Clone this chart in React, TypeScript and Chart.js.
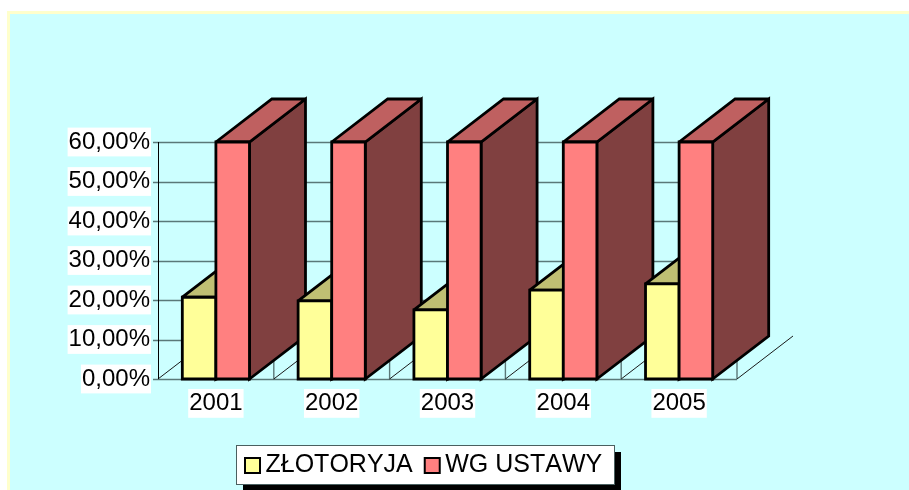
import React, { useEffect, useRef } from "react";
import { Chart, registerables } from "chart.js";

Chart.register(...registerables);

const years = ["2001", "2002", "2003", "2004", "2005"];
const zlotoryja = [20.7, 19.8, 17.5, 22.5, 24.1];
const wgUstawy = [60, 60, 60, 60, 60];
const seriesNames = ["ZŁOTORYJA", "WG USTAWY"];
const axisMax = 60;
const axisStep = 10;

const DEPTH_X = 56;
const DEPTH_Y = -43;
const GRID = "#5a7878";
const FONT = "'Liberation Sans', Arial, sans-serif";

function shade(hex: string, k: number) {
  const n = parseInt(hex.slice(1), 16);
  const c = [(n >> 16) & 255, (n >> 8) & 255, n & 255].map((v) => Math.round(v * k));
  return `rgb(${c[0]},${c[1]},${c[2]})`;
}

function poly(ctx: CanvasRenderingContext2D, pts: number[][], fill: string) {
  ctx.beginPath();
  pts.forEach((p, i) => (i ? ctx.lineTo(p[0], p[1]) : ctx.moveTo(p[0], p[1])));
  ctx.closePath();
  ctx.fillStyle = fill;
  ctx.fill();
  ctx.stroke();
}

const scenePlugin = {
  id: "scene",
  beforeDraw(chart: any) {
    const { ctx, width, height } = chart;
    ctx.save();
    ctx.fillStyle = "#ffffff";
    ctx.fillRect(0, 0, width, height);
    ctx.fillStyle = "#ffffcc";
    ctx.fillRect(7, 11, width - 7, height - 11);
    ctx.fillStyle = "#ccffff";
    ctx.fillRect(10, 14, width - 10, height - 14);
    // legend frame with drop shadow
    ctx.fillStyle = "#000000";
    ctx.fillRect(243, 452, 378, 38);
    ctx.fillStyle = "#ffffff";
    ctx.fillRect(237, 446, 377, 38);
    ctx.strokeStyle = "#4a6060";
    ctx.lineWidth = 1;
    ctx.strokeRect(236.5, 445.5, 378, 39);
    ctx.restore();
    ctx.fontKerning = "none";
  },
  afterLayout(chart: any) {
    const l = chart.legend;
    l.left = 233;
    l.right = 900;
    l.top = 434;
    l.bottom = 498;
  },
  beforeDatasetsDraw(chart: any) {
    const { ctx, scales } = chart;
    const x = scales.x;
    const y = scales.y;
    const base = y.getPixelForValue(0);
    const catW = x.width / years.length;
    ctx.save();
    // horizontal grid, ends behind the last category's bars
    ctx.strokeStyle = GRID;
    ctx.lineWidth = 1.4;
    y.ticks.forEach((t: any) => {
      const py = Math.round(y.getPixelForValue(t.value)) + 0.5;
      ctx.beginPath();
      ctx.moveTo(153, py);
      ctx.lineTo(t.value === 0 ? x.right : x.getPixelForValue(years.length - 1), py);
      ctx.stroke();
    });
    // floor
    for (let i = 0; i <= years.length; i++) {
      const px = x.left + i * catW;
      if (i > 0) {
        ctx.strokeStyle = GRID;
        ctx.lineWidth = 1.4;
        ctx.beginPath();
        ctx.moveTo(px, base);
        ctx.lineTo(px, base - 18);
        ctx.stroke();
      }
      ctx.strokeStyle = "#1a1a1a";
      ctx.lineWidth = 1;
      ctx.beginPath();
      ctx.moveTo(px, base);
      ctx.lineTo(px + DEPTH_X, base + DEPTH_Y);
      ctx.stroke();
    }
    // value axis
    ctx.strokeStyle = "#000000";
    ctx.lineWidth = 1;
    ctx.beginPath();
    ctx.moveTo(x.left + 0.5, y.top);
    ctx.lineTo(x.left + 0.5, base);
    ctx.stroke();
    // bars, back to front per category
    ctx.strokeStyle = "#000000";
    ctx.lineWidth = 2.8;
    ctx.lineJoin = "miter";
    ctx.miterLimit = 3;
    years.forEach((_, i) => {
      chart.data.datasets.forEach((ds: any, d: number) => {
        const bar = chart.getDatasetMeta(d).data[i];
        const l = bar.x - bar.width / 2;
        const r = bar.x + bar.width / 2;
        const t = bar.y;
        const b = bar.base;
        const col = ds.backgroundColor;
        poly(ctx, [[r, t], [r + DEPTH_X, t + DEPTH_Y], [r + DEPTH_X, b + DEPTH_Y], [r, b]], shade(col, 0.5));
        poly(ctx, [[l, t], [l + DEPTH_X, t + DEPTH_Y], [r + DEPTH_X, t + DEPTH_Y], [r, t]], shade(col, 0.75));
        poly(ctx, [[l, t], [r, t], [r, b], [l, b]], col);
      });
    });
    ctx.restore();
    return false;
  },
};

export default function App() {
  const ref = useRef<HTMLCanvasElement>(null);
  useEffect(() => {
    document.body.style.margin = "0";
    const font = { family: FONT, size: 24 };
    const chart = new Chart(ref.current!, {
      type: "bar",
      data: {
        labels: years,
        datasets: [
          { label: seriesNames[0], data: zlotoryja, backgroundColor: "#ffff99", borderColor: "#000000", borderWidth: 2 },
          { label: seriesNames[1], data: wgUstawy, backgroundColor: "#ff8080", borderColor: "#000000", borderWidth: 2 },
        ],
      },
      options: {
        animation: false,
        responsive: false,
        events: [],
        datasets: { bar: { categoryPercentage: 0.58, barPercentage: 1 } },
        layout: { autoPadding: false, padding: { left: 0, top: 142, right: 172, bottom: 12 } },
        scales: {
          x: {
            grid: { display: false, drawTicks: false },
            border: { display: false },
            afterFit: (s: any) => {
              s.height = 45;
            },
            ticks: {
              color: "#000000",
              font,
              padding: 10,
              maxRotation: 0,
              showLabelBackdrop: true,
              backdropColor: "#ffffff",
              backdropPadding: { x: 1, y: 0 },
            },
          },
          y: {
            min: 0,
            max: axisMax,
            grid: { display: false, drawTicks: false },
            border: { display: false },
            afterFit: (s: any) => {
              s.width = 158;
            },
            ticks: {
              stepSize: axisStep,
              color: "#000000",
              font,
              padding: 8,
              showLabelBackdrop: true,
              backdropColor: "#ffffff",
              backdropPadding: { x: 1, y: 0 },
              callback: (v: any) => Number(v).toFixed(2).replace(".", ",") + "%",
            },
          },
        },
        plugins: {
          tooltip: { enabled: false },
          legend: {
            position: "bottom",
            align: "start",
            labels: {
              color: "#000000",
              font: { family: FONT, size: 25 },
              usePointStyle: true,
              pointStyle: "rect",
              boxWidth: 1,
              boxHeight: 15,
              padding: 19,
            },
          },
        },
      } as any,
      plugins: [scenePlugin as any],
    });
    return () => chart.destroy();
  }, []);
  return <canvas ref={ref} width={909} height={490} style={{ display: "block" }} />;
}
